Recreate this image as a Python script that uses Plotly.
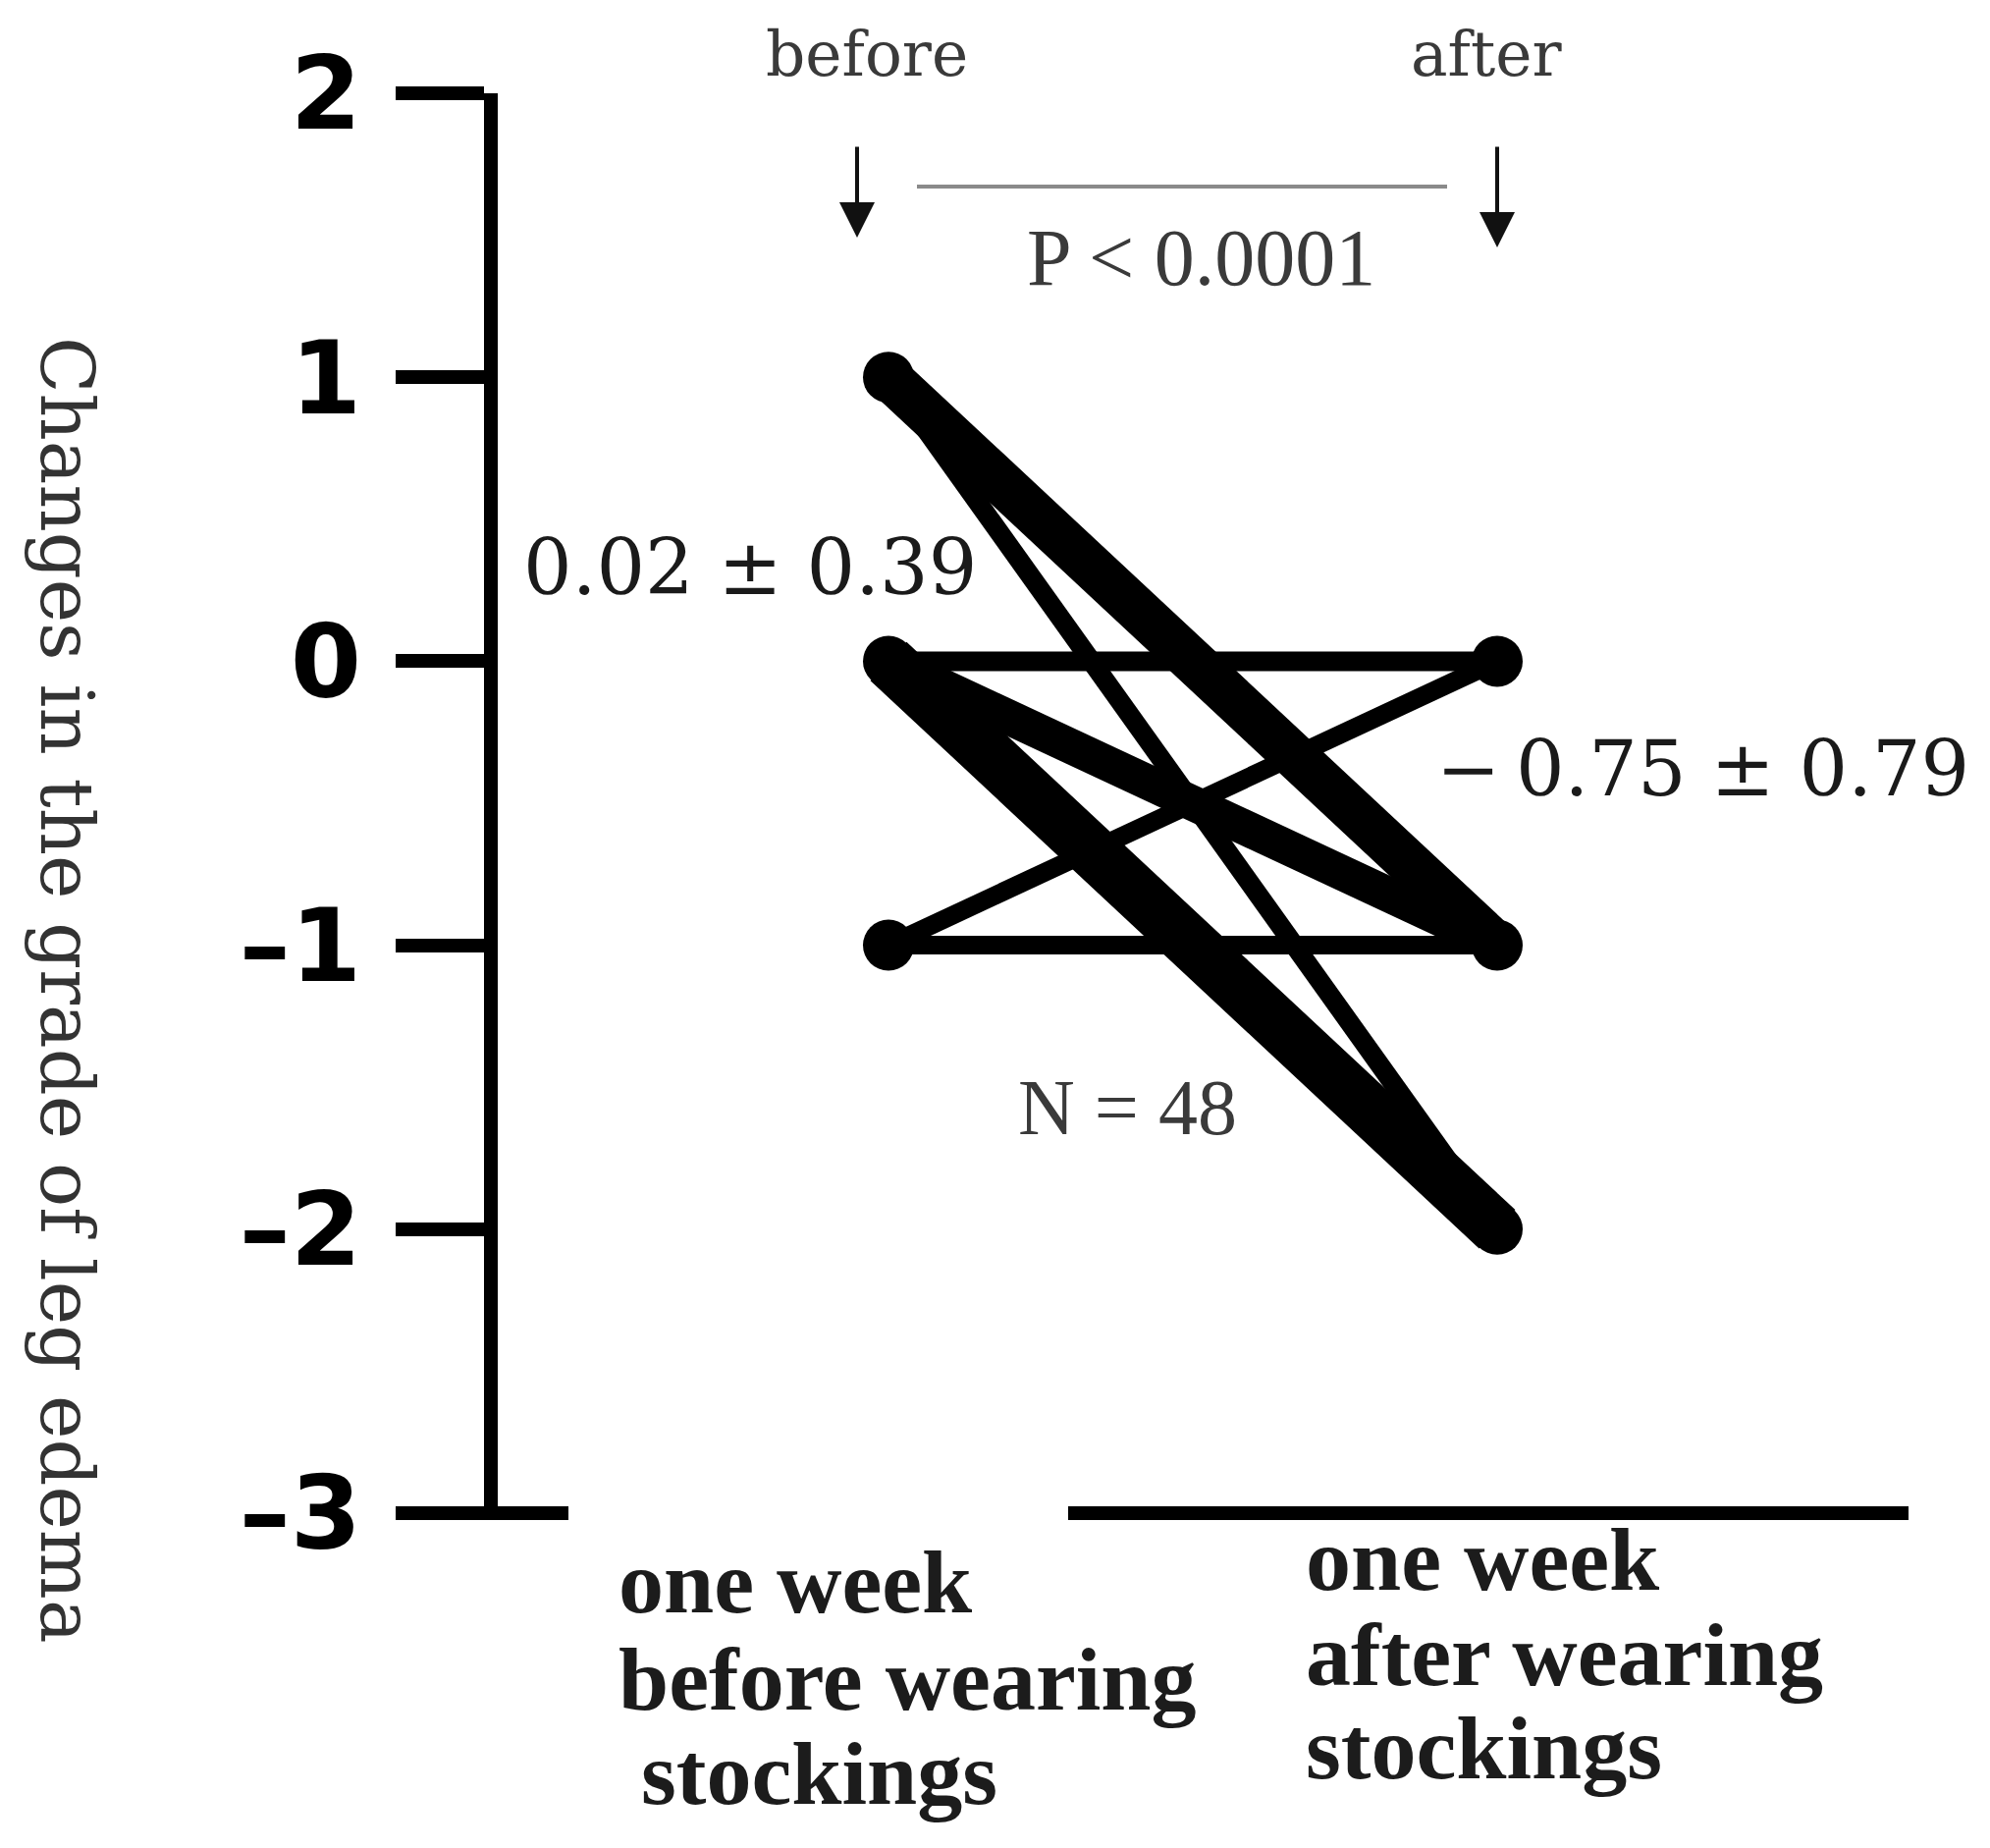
import plotly.graph_objects as go

# ---------------- data ----------------
periods = ["before", "after"]
before_grade = [1, 1, 0, 0, 0, -1, -1]
after_grade = [-1, -2, 0, -1, -2, 0, -1]
before_points = [1, 0, -1]
after_points = [0, -1, -2]
y_ticks = [-3, -2, -1, 0, 1, 2]
y_tick_labels = ["\u20133", "\u20132", "\u20131", "0", "1", "2"]
before_stat = "0.02 ± 0.39"
after_stat = "\u2212\u20090.75 ± 0.79"
p_text = "P < 0.0001"
n_text = "N = 48"
y_title = "Changes in the grade of leg edema"
before_label_lines = ["one week", "before wearing", "\u00a0stockings"]
after_label_lines = ["one week", "after wearing", "stockings"]

# ---------------- styles ----------------
line_widths = [46, 20, 20, 36, 54, 19, 19]
W, H = 2027, 1882
L, R, T, B = 499, 77, 87, 349
PX_PER_X = 620.0
X0_PX = 897.0
x_min = (L - X0_PX) / PX_PER_X
x_max = (W - R - X0_PX) / PX_PER_X
Y_BOTTOM_PX = H - B


def xp(px):
    return (px - L) / (W - L - R)


def yp(py):
    return (H - B - py) / (H - T - B)


x_pos = {p: i for i, p in enumerate(periods)}

fig = go.Figure()
for b, a, w in zip(before_grade, after_grade, line_widths):
    fig.add_trace(go.Scatter(
        x=[x_pos["before"], x_pos["after"]], y=[b, a], mode="lines",
        line=dict(color="black", width=w), hoverinfo="skip", showlegend=False,
        cliponaxis=False))
fig.add_trace(go.Scatter(
    x=[x_pos["before"]] * len(before_points), y=before_points, mode="markers",
    marker=dict(color="black", size=52), showlegend=False, cliponaxis=False))
fig.add_trace(go.Scatter(
    x=[x_pos["after"]] * len(after_points), y=after_points, mode="markers",
    marker=dict(color="black", size=52), showlegend=False, cliponaxis=False))

serif = "DejaVu Serif"
times = "Liberation Serif"
ann = []
ann.append(dict(text="before", x=xp(875), y=yp(47), font=dict(family=serif, size=63, color="#3a3a3a")))
ann.append(dict(text="after", x=xp(1506), y=yp(47), font=dict(family=serif, size=63, color="#3a3a3a")))
ann.append(dict(text=p_text, x=xp(1215), y=yp(254), font=dict(family=times, size=82, color="#3a3a3a")))
ann.append(dict(text=before_stat, x=xp(756), y=yp(570), font=dict(family=serif, size=78, color="#1a1a1a")))
ann.append(dict(text=after_stat, x=xp(1726), y=yp(775), font=dict(family=serif, size=78, color="#1a1a1a")))
ann.append(dict(text=n_text, x=xp(1140), y=yp(1120), font=dict(family=times, size=80, color="#3a3a3a")))
ann.append(dict(text=y_title, x=xp(60), y=yp(1000), textangle=90,
                font=dict(family=serif, size=75, color="#333333")))
for t, ypx in zip(before_label_lines, [1603, 1702, 1798]):
    ann.append(dict(text=t, x=xp(620), y=yp(ypx), xanchor="left",
                    font=dict(family=times, size=92, color="#1c1c1c", weight="bold")))
for t, ypx in zip(after_label_lines, [1580, 1677, 1772]):
    ann.append(dict(text=t, x=xp(1320), y=yp(ypx), xanchor="left",
                    font=dict(family=times, size=92, color="#1c1c1c", weight="bold")))
for a in ann:
    a.setdefault("xanchor", "center")
    a.update(xref="paper", yref="paper", showarrow=False, yanchor="middle")

# arrows
for xpx, y_tail, y_tip in [(865, 140, 234), (1517, 140, 244)]:
    ann.append(dict(x=xp(xpx), y=yp(y_tip), ax=0, ay=y_tail - y_tip, xref="paper", yref="paper",
                    axref="pixel", ayref="pixel", text="", showarrow=True,
                    arrowhead=2, arrowsize=1.8, arrowwidth=4, arrowcolor="#111111"))

shapes = [
    dict(type="line", xref="paper", yref="paper", x0=xp(926), x1=xp(1466), y0=yp(182), y1=yp(182),
         line=dict(color="#8a8a8a", width=4)),
    dict(type="line", xref="paper", yref="paper", x0=xp(485), x1=xp(571), y0=yp(Y_BOTTOM_PX),
         y1=yp(Y_BOTTOM_PX), line=dict(color="black", width=14)),
    dict(type="line", xref="paper", yref="paper", x0=xp(1080), x1=xp(1936), y0=yp(Y_BOTTOM_PX),
         y1=yp(Y_BOTTOM_PX), line=dict(color="black", width=14)),
]

fig.update_layout(
    width=W, height=H, margin=dict(l=L, r=R, t=T, b=B),
    plot_bgcolor="white", paper_bgcolor="white",
    annotations=ann, shapes=shapes, showlegend=False,
    xaxis=dict(range=[x_min, x_max], visible=False, showgrid=False, zeroline=False),
    yaxis=dict(range=[-3, 2], showgrid=False, zeroline=False, showline=True, linewidth=14,
               linecolor="black", ticks="outside", ticklen=90, tickwidth=14, tickcolor="black",
               tickvals=y_ticks, ticktext=y_tick_labels, ticklabelstandoff=14,
               tickfont=dict(family="DejaVu Sans", size=104, color="black", weight="bold")),
)

fig.write_html("out.html")
